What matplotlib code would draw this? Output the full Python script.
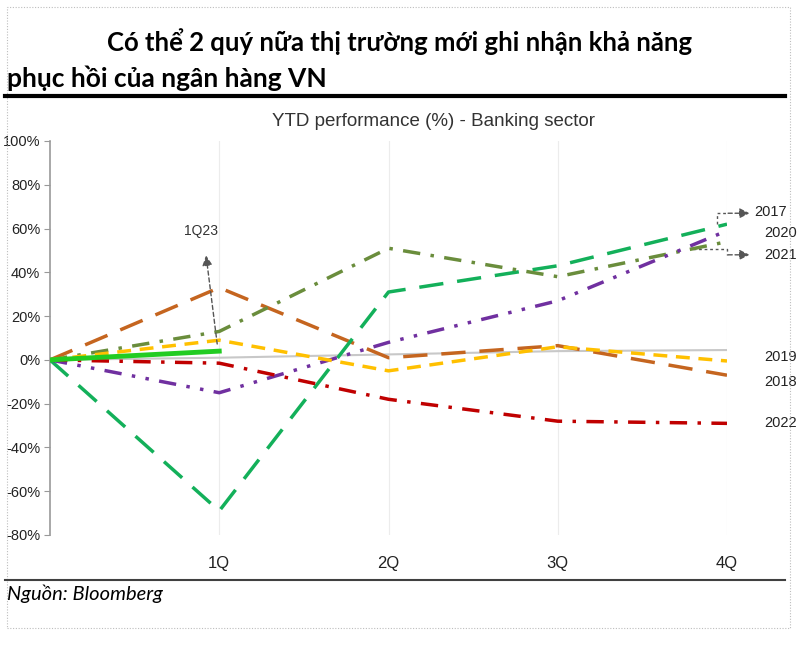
import matplotlib
matplotlib.use("Agg")
import matplotlib.pyplot as plt
from matplotlib.patches import Rectangle
from matplotlib.lines import Line2D

quarters = ["", "1Q", "2Q", "3Q", "4Q"]
y2017 = [0, -69, 31, 43, 62]
y2018 = [0, 33, 1, 6.5, -7]
y2019 = [0, 9, -5, 6, -0.5]
y2020 = [0, -15, 8, 27, 59]
y2021 = [0, 13, 51, 38, 54]
y2022 = [0, -1.5, -18, -28, -29]
ybase = [0, 1, 2.5, 4, 4.5]
y1q23 = [0, 4]
yticks = [-80, -60, -40, -20, 0, 20, 40, 60, 80, 100]

W, H = 800, 647
fig = plt.figure(figsize=(8, 6.47), dpi=100)

def fx(px):
    return px / W

def fy(py):
    return 1 - py / H

# dotted border
fig.add_artist(Rectangle((fx(7), fy(628)), fx(783), (621) / H, transform=fig.transFigure,
                         fill=False, ec="#bdbdbd", lw=0.8, ls=(0, (1, 1.5))))

title_font = "Lato"
fig.text(0.5, fy(42), "Có thể 2 quý nữa thị trường mới ghi nhận khả năng",
         ha="center", va="center", fontsize=18.5, fontweight="bold", family=title_font)
fig.text(fx(7), fy(78), "phục hồi của ngân hàng VN",
         ha="left", va="center", fontsize=19, fontweight="bold", family=title_font)
fig.add_artist(Line2D([fx(5), fx(785)], [fy(96), fy(96)], color="black", lw=3))
fig.add_artist(Line2D([fx(5), fx(785)], [fy(580), fy(580)], color="#404040", lw=1.5))
fig.text(fx(7), fy(594), "Nguồn: Bloomberg", ha="left", va="center", fontsize=14.5,
         style="italic", family=title_font)

chart_font = ["Liberation Sans", "DejaVu Sans"]
fig.text(fx(433), fy(122), "YTD performance (%) - Banking sector", ha="center", va="center",
         fontsize=13.5, family=chart_font, color="#333333")

ax = fig.add_axes([fx(50), fy(535), fx(727 - 50), (535 - 141) / H])
x = list(range(len(quarters)))

ax.plot(x, ybase, color="#c8c8c8", lw=1.5, zorder=2)
ax.plot(x, y2018, color="#c5651f", lw=2.5, ls=(0, (7, 4)), zorder=3)
ax.plot(x, y2017, color="#13b05a", lw=2.5, ls=(0, (7, 4)), zorder=3)
ax.plot(x, y2021, color="#6a8d3c", lw=2.5, ls=(0, (5, 3, 1, 3)), zorder=3)
ax.plot(x, y2020, color="#7030a0", lw=2.5, ls=(0, (5, 3, 1, 3, 1, 3)), zorder=3)
ax.plot(x, y2019, color="#ffc000", lw=2.5, ls=(0, (4, 2.5)), zorder=3)
ax.plot(x, y2022, color="#c00000", lw=2.5, ls=(0, (5, 3, 1, 3)), zorder=3)
ax.plot(x[:len(y1q23)], y1q23, color="#22cc22", lw=3.5, zorder=4)

ax.set_xlim(0, 4)
ax.set_ylim(-80, 100)
ax.set_yticks(yticks)
ax.set_yticklabels([f"{v}%" for v in yticks], family=chart_font, fontsize=10.5, color="#222222")
ax.set_xticks(x[1:])
ax.set_xticklabels(quarters[1:], family=chart_font, fontsize=12, color="#222222")
ax.tick_params(axis="x", length=0, pad=15)
ax.tick_params(axis="y", length=4, color="#999999", direction="out", pad=3)
for xv in x[1:]:
    ax.axvline(xv, color="#ececec", lw=0.8, zorder=1)
for s in ["top", "right", "bottom"]:
    ax.spines[s].set_visible(False)
ax.spines["left"].set_color("#999999")
ax.spines["left"].set_linewidth(1.2)

arrow_kw = dict(arrowstyle="-|>", color="#555555", lw=1, ls=(0, (3, 2)), mutation_scale=15)
# 1Q23 annotation
ax.annotate("", xy=(0.92, 49), xytext=(0.99, 6), arrowprops=arrow_kw, annotation_clip=False)
ax.text(0.89, 59, "1Q23", ha="center", va="center", fontsize=10, family=chart_font, color="#333333")

# 2017 / 2021 arrows
ax.plot([3.94, 3.94, 4.0], [62, 67, 67], color="#555555", lw=1, ls=(0, (2, 2)), clip_on=False)
ax.annotate("", xy=(4.15, 67), xytext=(3.99, 67), arrowprops=arrow_kw, annotation_clip=False)
ax.plot([3.8, 4.0, 4.0], [50.5, 50.5, 48], color="#555555", lw=1, ls=(0, (2, 2)), clip_on=False)
ax.annotate("", xy=(4.15, 48), xytext=(3.99, 48), arrowprops=arrow_kw, annotation_clip=False)

lab_kw = dict(ha="left", va="center", fontsize=10.5, family=chart_font, color="#222222", clip_on=False)
ax.text(4.16, 67.5, "2017", **lab_kw)
ax.text(4.22, 58, "2020", **lab_kw)
ax.text(4.22, 48, "2021", **lab_kw)
ax.text(4.22, 1.5, "2019", **lab_kw)
ax.text(4.22, -10, "2018", **lab_kw)
ax.text(4.22, -29, "2022", **lab_kw)

fig.savefig("out.png", dpi=100)
